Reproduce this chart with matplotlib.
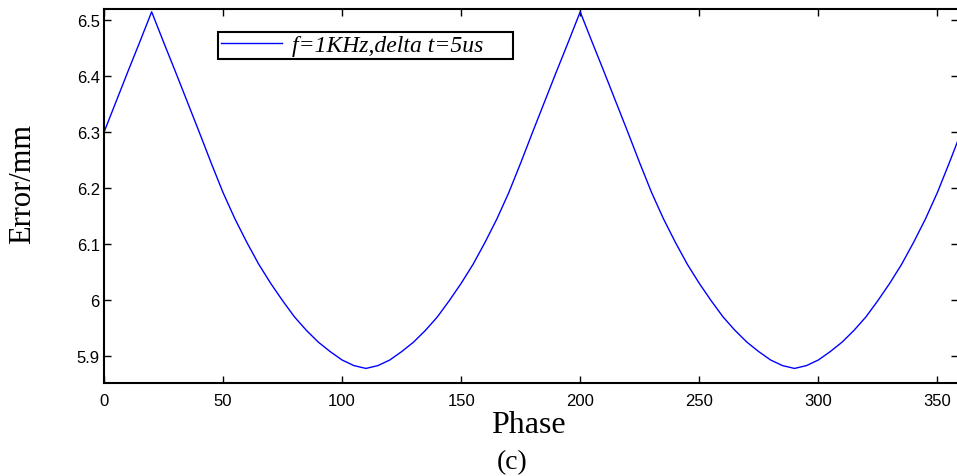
import matplotlib.pyplot as plt
from matplotlib.ticker import FuncFormatter

# Phase (deg) and error (mm), every 5 degrees
phase = [0, 5, 10, 15, 20, 25, 30, 35, 40, 45, 50, 55, 60, 65, 70, 75, 80, 85,
         90, 95, 100, 105, 110, 115, 120, 125, 130, 135, 140, 145, 150, 155,
         160, 165, 170, 175, 180, 185, 190, 195, 200, 205, 210, 215, 220, 225,
         230, 235, 240, 245, 250, 255, 260, 265, 270, 275, 280, 285, 290, 295,
         300, 305, 310, 315, 320, 325, 330, 335, 340, 345, 350, 355, 360]
error = [6.300, 6.354, 6.408, 6.461, 6.515, 6.461, 6.408, 6.354, 6.300, 6.245,
         6.192, 6.145, 6.103, 6.064, 6.030, 5.999, 5.970, 5.946, 5.925, 5.908,
         5.893, 5.883, 5.878, 5.883, 5.893, 5.908, 5.925, 5.946, 5.970, 5.999,
         6.030, 6.064, 6.103, 6.145, 6.192, 6.245, 6.300, 6.354, 6.408, 6.461,
         6.515, 6.461, 6.408, 6.354, 6.300, 6.245, 6.192, 6.145, 6.103, 6.064,
         6.030, 5.999, 5.970, 5.946, 5.925, 5.908, 5.893, 5.883, 5.878, 5.883,
         5.893, 5.908, 5.925, 5.946, 5.970, 5.999, 6.030, 6.064, 6.103, 6.145,
         6.192, 6.245, 6.300]

x_ticks = [0, 50, 100, 150, 200, 250, 300, 350]
y_ticks = [5.9, 6.0, 6.1, 6.2, 6.3, 6.4, 6.5]
legend_label = "f=1KHz,delta t=5us"

fig = plt.figure(figsize=(9.57, 4.77), dpi=100)
# right spine sits just past the picture edge, as in the original
ax = fig.add_axes([0.1087, 0.195, 0.8924, 0.784])

ax.plot(phase, error, color="#0000ff", linewidth=1.0, label=legend_label)

ax.set_xlim(0, 358.7)
ax.set_ylim(5.852, 6.52)
ax.set_xticks(x_ticks)
ax.set_yticks(y_ticks)
ax.yaxis.set_major_formatter(FuncFormatter(lambda v, p: "%g" % round(v, 2)))

# MATLAB style: ticks inside on every side
ax.tick_params(direction="in", length=5, width=1.0, top=True, right=True,
               labelsize=12)
ax.tick_params(axis="y", pad=3)
ax.tick_params(axis="x", pad=7)
for lbl in ax.get_xticklabels() + ax.get_yticklabels():
    lbl.set_fontfamily("Liberation Sans")
for sp in ax.spines.values():
    sp.set_linewidth(1.5)

# axis titles and panel label
fig.text(0.5525, 0.092, "Phase", fontfamily="Liberation Serif", fontsize=23,
         ha="center", va="baseline")
fig.text(0.024, 0.614, "Error/mm", fontfamily="Liberation Serif", fontsize=22,
         rotation=90, ha="center", va="center")
fig.text(0.535, 0.031, "(c)", fontfamily="Liberation Serif", fontsize=20,
         ha="center", va="center")

# legend box stretched to the width it has in the original
leg = ax.legend(loc="upper left", bbox_to_anchor=(0.1335, 0.86, 0.345, 0.079),
                mode="expand",
                prop={"family": "Liberation Serif", "style": "italic", "size": 17},
                handlelength=2.6, handletextpad=0.4, borderpad=0.12,
                borderaxespad=0, fancybox=False, framealpha=1,
                edgecolor="black")
leg.get_frame().set_linewidth(1.5)

fig.savefig("out.png", dpi=100)
